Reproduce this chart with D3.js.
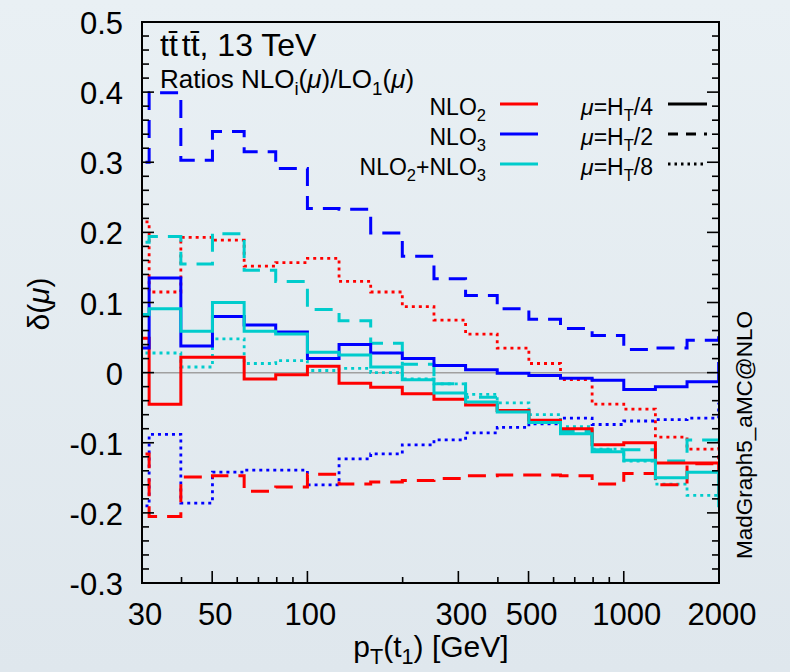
<!DOCTYPE html>
<html><head><meta charset="utf-8">
<script src="https://cdn.jsdelivr.net/npm/d3@7"></script>
<style>html,body{margin:0;padding:0;background:#e6edf2;}svg{display:block;}</style>
</head><body>
<svg id="chart" width="790" height="672"></svg>
<script>
// ---------------- data ----------------
// bin edges in GeV (log-spaced, 0.1 decade)
const binEdges = [25.1, 31.6, 39.8, 50.1, 63.1, 79.4, 100, 125.9, 158.5, 199.5, 251.2, 316.2, 398.1, 501.2, 631.0, 794.3, 1000, 1258.9, 1584.9, 1995.3, 2511.9];
// NLO2 (red)
const nlo2_HT4 = [0.049, -0.045, 0.022, 0.022, -0.009, -0.003, 0.009, -0.015, -0.021, -0.030, -0.038, -0.046, -0.054, -0.068, -0.080, -0.103, -0.100, -0.129, -0.129, -0.175];
const nlo2_HT2 = [-0.116, -0.205, -0.149, -0.147, -0.169, -0.163, -0.145, -0.159, -0.156, -0.154, -0.151, -0.147, -0.146, -0.146, -0.147, -0.159, -0.144, -0.160, -0.130, -0.120];
const nlo2_HT8 = [0.215, 0.115, 0.193, 0.189, 0.152, 0.157, 0.163, 0.130, 0.115, 0.094, 0.075, 0.055, 0.035, 0.013, -0.010, -0.045, -0.052, -0.092, -0.109, -0.100];
// NLO3 (blue)
const nlo3_HT4 = [0.035, 0.135, 0.038, 0.080, 0.068, 0.058, 0.020, 0.040, 0.028, 0.020, 0.010, 0.004, -0.001, -0.004, -0.008, -0.011, -0.024, -0.020, -0.013, 0.013];
const nlo3_HT2 = [0.300, 0.399, 0.303, 0.344, 0.315, 0.291, 0.234, 0.233, 0.199, 0.166, 0.134, 0.110, 0.091, 0.076, 0.063, 0.053, 0.033, 0.035, 0.046, 0.062];
const nlo3_HT8 = [-0.190, -0.088, -0.186, -0.142, -0.139, -0.139, -0.160, -0.123, -0.116, -0.103, -0.096, -0.086, -0.078, -0.073, -0.065, -0.074, -0.069, -0.067, -0.065, -0.045];
// NLO2+NLO3 (cyan)
const sum_HT4 = [0.083, 0.091, 0.059, 0.100, 0.059, 0.055, 0.029, 0.025, 0.008, -0.010, -0.029, -0.042, -0.056, -0.071, -0.087, -0.113, -0.125, -0.150, -0.142, -0.190];
const sum_HT2 = [0.186, 0.194, 0.155, 0.198, 0.146, 0.130, 0.090, 0.074, 0.042, 0.012, -0.016, -0.035, -0.054, -0.070, -0.084, -0.110, -0.110, -0.126, -0.096, -0.100];
const sum_HT8 = [0.028, 0.028, 0.008, 0.048, 0.013, 0.017, 0.003, 0.006, 0.000, -0.009, -0.016, -0.031, -0.043, -0.060, -0.077, -0.109, -0.126, -0.159, -0.175, -0.180];

const xTickMajor = [30, 50, 100, 300, 500, 1000, 2000];
const xTickMinor = [40, 60, 70, 80, 90, 200, 400, 600, 700, 800, 900];
const yTickLabels = ["-0.3", "-0.2", "-0.1", "0", "0.1", "0.2", "0.3", "0.4", "0.5"];

// ---------------- setup ----------------
const svg = d3.select("#chart");
const FONT = "'Liberation Sans', Arial, Helvetica, sans-serif";
const L = 142, R = 719, T = 22, B = 583;
const x = d3.scaleLog().domain([30, 2000]).range([L, R]);
const y = d3.scaleLinear().domain([-0.3, 0.5]).range([B, T]);

const defs = svg.append("defs");
const grad = defs.append("linearGradient").attr("id", "bg").attr("x1", 0).attr("y1", 0).attr("x2", 0).attr("y2", 1);
grad.append("stop").attr("offset", "0%").attr("stop-color", "#e9f0f4");
grad.append("stop").attr("offset", "100%").attr("stop-color", "#dfe7ed");
defs.append("clipPath").attr("id", "clip").append("rect")
  .attr("x", L).attr("y", T).attr("width", R - L).attr("height", B - T);

svg.append("rect").attr("width", 790).attr("height", 672).attr("fill", "url(#bg)");

// zero line
svg.append("line").attr("x1", L).attr("x2", R).attr("y1", y(0)).attr("y2", y(0))
  .attr("stroke", "#a0a0a0").attr("stroke-width", 1.5);

// ---------------- histograms ----------------
const colors = { red: "#ff0000", blue: "#0000ff", cyan: "#00cccc" };
const styles = {
  solid: { w: 3, dash: null },
  dashed: { w: 3, dash: "18,10" },
  dotted: { w: 2.8, dash: "3,4" }
};
const series = [
  { v: nlo2_HT8, c: "red", s: "dotted" },
  { v: nlo3_HT8, c: "blue", s: "dotted" },
  { v: sum_HT8, c: "cyan", s: "dotted" },
  { v: nlo2_HT2, c: "red", s: "dashed" },
  { v: nlo3_HT2, c: "blue", s: "dashed" },
  { v: sum_HT2, c: "cyan", s: "dashed" },
  { v: nlo2_HT4, c: "red", s: "solid" },
  { v: nlo3_HT4, c: "blue", s: "solid" },
  { v: sum_HT4, c: "cyan", s: "solid" }
];
const stepLine = d3.line().x(d => x(d[0])).y(d => y(d[1])).curve(d3.curveStepAfter);
const gH = svg.append("g").attr("clip-path", "url(#clip)");
series.forEach(s => {
  const pts = s.v.map((v, i) => [binEdges[i], v]);
  pts.push([binEdges[s.v.length], s.v[s.v.length - 1]]);
  const st = styles[s.s];
  const p = gH.append("path").attr("d", stepLine(pts)).attr("fill", "none")
    .attr("stroke", colors[s.c]).attr("stroke-width", st.w).attr("stroke-linejoin", "miter");
  if (st.dash) p.attr("stroke-dasharray", st.dash);
});

// ---------------- frame & ticks ----------------
const gA = svg.append("g").attr("stroke", "#000");
gA.append("rect").attr("x", L).attr("y", T).attr("width", R - L).attr("height", B - T)
  .attr("fill", "none").attr("stroke-width", 2);
// y ticks
const yMinor = d3.range(-0.3, 0.5001, 0.02);
yMinor.forEach(v => {
  const isMajor = Math.abs(Math.round(v * 10) - v * 10) < 1e-6;
  const len = isMajor ? 12 : 7;
  gA.append("line").attr("x1", L).attr("x2", L + len).attr("y1", y(v)).attr("y2", y(v)).attr("stroke-width", 1.6);
  gA.append("line").attr("x1", R).attr("x2", R - len).attr("y1", y(v)).attr("y2", y(v)).attr("stroke-width", 1.6);
});
// x ticks
xTickMajor.forEach(t => gA.append("line").attr("x1", x(t)).attr("x2", x(t)).attr("y1", B).attr("y2", B - 12).attr("stroke-width", 1.6));
xTickMinor.forEach(t => gA.append("line").attr("x1", x(t)).attr("x2", x(t)).attr("y1", B).attr("y2", B - 6).attr("stroke-width", 1.6));

// tick labels
const gT = svg.append("g").attr("font-family", FONT).attr("fill", "#000");
yTickLabels.forEach(lab => {
  gT.append("text").attr("x", 123).attr("y", y(+lab) + 12).attr("text-anchor", "end")
    .attr("font-size", 31).text(lab);
});
xTickMajor.forEach(t => {
  gT.append("text").attr("x", x(t) + 3).attr("y", 625).attr("text-anchor", "middle")
    .attr("font-size", 31).text(String(t));
});

// ---------------- rich text helper ----------------
function rich(parent, xx, yy, size, parts, anchor, transform, subShift) {
  const t = parent.append("text").attr("x", xx).attr("y", yy).attr("font-size", size)
    .attr("font-family", FONT).attr("fill", "#000");
  if (anchor) t.attr("text-anchor", anchor);
  if (transform) t.attr("transform", transform);
  const sh = subShift == null ? 0.28 : subShift;
  let shift = 0;
  parts.forEach(p => {
    const ts = t.append("tspan").text(p.t);
    const target = p.sub ? size * sh : 0;
    if (target !== shift) { ts.attr("dy", target - shift); shift = target; }
    if (p.sub) ts.attr("font-size", size * 0.72);
    if (p.it) ts.attr("font-style", "italic");
    if (p.dx) ts.attr("dx", p.dx);
  });
  return t;
}

// title
rich(svg, 160, 56, 32, [{ t: "tt\u0304" }, { t: "tt\u0304", dx: 4 }, { t: ", 13 TeV" }]);
rich(svg, 160, 88, 26, [{ t: "Ratios NLO" }, { t: "i", sub: 1 }, { t: "(" }, { t: "\u03bc", it: 1 }, { t: ")/LO" }, { t: "1", sub: 1 }, { t: "(" }, { t: "\u03bc", it: 1 }, { t: ")" }]);

// axis labels
rich(svg, 0, 0, 30, [{ t: "\u03b4(" }, { t: "\u03bc", it: 1 }, { t: ")" }], "middle", "translate(49,304) rotate(-90)");
rich(svg, 431, 657, 30, [{ t: "p" }, { t: "T", sub: 1 }, { t: "(t" }, { t: "1", sub: 1 }, { t: ") [GeV]" }], "middle", null, 0.22);
rich(svg, 0, 0, 22.5, [{ t: "MadGraph5_aMC@NLO" }], "middle", "translate(752,435) rotate(-90)");

// ---------------- legend ----------------
const legRows = [104, 134, 164];
const legNames = [
  [{ t: "NLO" }, { t: "2", sub: 1 }],
  [{ t: "NLO" }, { t: "3", sub: 1 }],
  [{ t: "NLO" }, { t: "2", sub: 1 }, { t: "+NLO" }, { t: "3", sub: 1 }]
];
const legColors = ["red", "blue", "cyan"];
const legScales = [
  [{ t: "\u03bc", it: 1 }, { t: "=H" }, { t: "T", sub: 1 }, { t: "/4" }],
  [{ t: "\u03bc", it: 1 }, { t: "=H" }, { t: "T", sub: 1 }, { t: "/2" }],
  [{ t: "\u03bc", it: 1 }, { t: "=H" }, { t: "T", sub: 1 }, { t: "/8" }]
];
const legStyles = ["solid", "dashed", "dotted"];
legRows.forEach((ry, i) => {
  rich(svg, 486, ry + 11, 23, legNames[i], "end");
  svg.append("line").attr("x1", 500).attr("x2", 538).attr("y1", ry).attr("y2", ry)
    .attr("stroke", colors[legColors[i]]).attr("stroke-width", 3);
  rich(svg, 653, ry + 11, 23, legScales[i], "end");
  const st = styles[legStyles[i]];
  const ln = svg.append("line").attr("x1", 668).attr("x2", 707).attr("y1", ry).attr("y2", ry)
    .attr("stroke", "#000").attr("stroke-width", st.w);
  if (legStyles[i] === "dashed") ln.attr("stroke-dasharray", "10,8");
  else if (st.dash) ln.attr("stroke-dasharray", "2.5,4");
});
</script>
</body></html>
